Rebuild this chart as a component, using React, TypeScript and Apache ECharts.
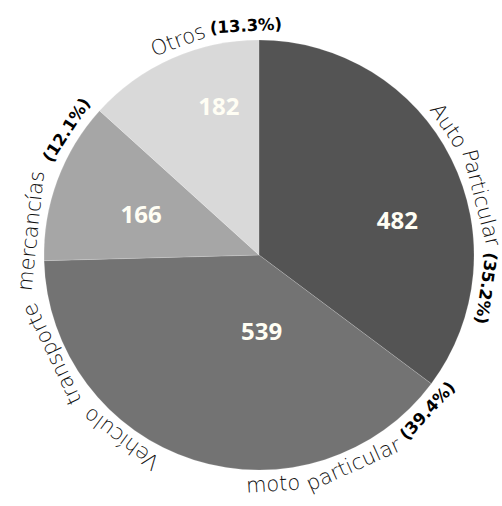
import React, { useEffect, useRef } from 'react';
import * as echarts from 'echarts';

// ---- data ----
const categories = ['Auto Particular', 'moto particular', 'Vehículo transporte mercancías', 'Otros'];
const values = [482, 539, 166, 182];
const colors = ['#545454', '#737373', '#a6a6a6', '#d9d9d9'];

// ---- layout (not data) ----
const W = 502;
const H = 506;
const CX = 259;
const CY = 255;
const RADIUS = 215;
const valueLabelAngle = [75.5, 178, 289.5, 345];
const valueLabelRadius = [143, 76, 125, 155];
// angular extent of each outer label along the rim (degrees clockwise from top)
const outerLabelStart = [50, 125.3, 205.8, 333];
const outerLabelEnd = [107, 181.7, 312, 365];
const outerLabelFlip = [false, true, false, false];
const TEXT_R = 229.5;
const REG_FONT = { family: 'DejaVu Sans', weight: 200, size: 21 };
const BOLD_FONT = { family: 'DejaVu Sans', weight: 'bold', size: 16.5 };

function fontStr(f: any) {
  return `${f.weight} ${f.size}px "${f.family}"`;
}

function buildOuterLabels() {
  const canvas = document.createElement('canvas');
  const ctx = canvas.getContext('2d')!;
  const measure = (t: string, f: any) => {
    ctx.font = fontStr(f);
    return ctx.measureText(t).width;
  };
  const total = values.reduce((a, b) => a + b, 0);
  const elements: any[] = [];
  categories.forEach((cat, i) => {
    const pct = `(${((values[i] / total) * 100).toFixed(1)}%)`;
    const words: { t: string; bold: boolean }[] = cat.split(' ').map((t) => ({ t, bold: false }));
    words.push({ t: pct, bold: true });
    const widths = words.map((w) => measure(w.t, w.bold ? BOLD_FONT : REG_FONT));
    const sumW = widths.reduce((a, b) => a + b, 0);
    const target = (Math.abs(outerLabelEnd[i] - outerLabelStart[i]) * Math.PI / 180) * TEXT_R;
    const minGap = measure(' ', REG_FONT) * 0.8;
    const gap = Math.max(minGap, (target - sumW) / (words.length - 1));
    const L = sumW + gap * (words.length - 1);
    const centerAngle = (outerLabelStart[i] + outerLabelEnd[i]) / 2;
    let s0 = -L / 2;
    const dir = outerLabelFlip[i] ? -1 : 1;
    words.forEach((w, k) => {
      const sc = s0 + widths[k] / 2;
      s0 += widths[k] + gap;
      const aDeg = centerAngle + (dir * sc / TEXT_R) * 180 / Math.PI;
      const a = (aDeg * Math.PI) / 180;
      const f = w.bold ? BOLD_FONT : REG_FONT;
      elements.push({
        type: 'text',
        x: CX + TEXT_R * Math.sin(a),
        y: CY - TEXT_R * Math.cos(a),
        rotation: outerLabelFlip[i] ? Math.PI - a : -a,
        silent: true,
        style: {
          text: w.t,
          fill: w.bold ? '#000000' : '#111111',
          fontFamily: f.family,
          fontWeight: f.weight,
          fontSize: f.size,
          align: 'center',
          verticalAlign: 'middle',
        },
      });
    });
  });
  return elements;
}

export default function App() {
  const ref = useRef<HTMLDivElement>(null);
  useEffect(() => {
    document.body.style.margin = '0';
    const chart = echarts.init(ref.current!, null, { renderer: 'svg' });
    chart.setOption({
      animation: false,
      backgroundColor: '#ffffff',
      series: [
        {
          type: 'pie',
          center: [CX, CY],
          radius: RADIUS,
          startAngle: 90,
          clockwise: true,
          silent: true,
          emphasis: { disabled: true },
          itemStyle: { borderColor: 'rgba(255,255,255,0.25)', borderWidth: 0.6 },
          data: categories.map((name, i) => ({ name, value: values[i], itemStyle: { color: colors[i] } })),
          label: {
            show: true,
            position: 'inside',
            formatter: '{c}',
            fontFamily: 'Open Sans',
            fontWeight: 'bold',
            fontSize: 24,
            color: '#fffef4',
          },
          labelLine: { show: false },
          labelLayout: (p: any) => {
            const i = p.dataIndex;
            const a = (valueLabelAngle[i] * Math.PI) / 180;
            return {
              x: CX + valueLabelRadius[i] * Math.sin(a),
              y: CY - valueLabelRadius[i] * Math.cos(a),
              align: 'center',
              verticalAlign: 'middle',
            };
          },
        },
      ],
      graphic: buildOuterLabels(),
    });
    return () => chart.dispose();
  }, []);
  return <div ref={ref} style={{ position: 'absolute', left: 0, top: 0, width: W, height: H }} />;
}
